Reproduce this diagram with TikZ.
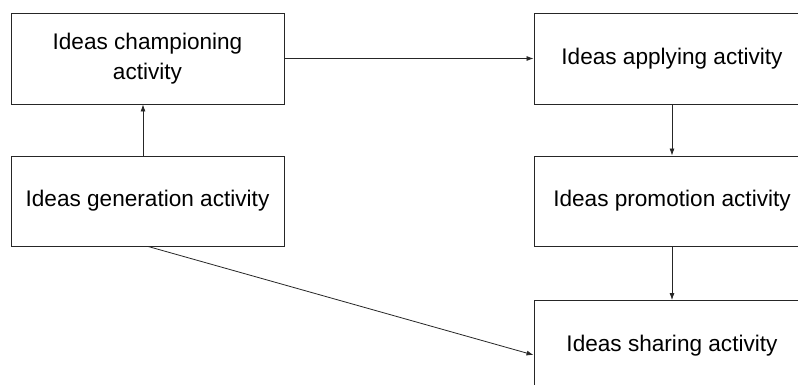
\documentclass[tikz,border=0pt]{standalone}
\usepackage{fontspec}
\setmainfont{Liberation Sans}
\usetikzlibrary{arrows.meta}
\begin{document}
\begin{tikzpicture}[x=1pt,y=1pt,
  box/.style={draw=black!85, line width=0.9pt, inner sep=0pt, align=center,
    text=black, font=\fontsize{22.6}{30}\selectfont},
  conn/.style={draw=black!85, line width=0.8pt, -{Latex[length=7pt,width=5pt]}}]
\path[use as bounding box, clip] (0,0) rectangle (798,-385);
\fill[white] (0,0) rectangle (798,-385);
\node[box, minimum width=273pt, minimum height=91pt] (champ) at (147.5,-58.5) {Ideas championing\\[-0.5pt]activity};
\node[box, minimum width=273pt, minimum height=90pt] (gen) at (147.5,-201) {Ideas generation activity};
\node[box, minimum width=276pt, minimum height=91pt] (apply) at (672,-58.5) {Ideas applying activity};
\node[box, minimum width=276pt, minimum height=90pt] (promo) at (672,-201) {Ideas promotion activity};
\node[box, minimum width=276pt, minimum height=91pt] (share) at (672,-346) {Ideas sharing activity};
\draw[conn] ([xshift=-4.5pt]gen.north) -- ([xshift=-4.5pt]champ.south);
\draw[conn] (champ.east) -- (apply.west);
\draw[conn] (apply.south) -- (promo.north);
\draw[conn] (promo.south) -- (share.north);
\draw[conn] ([xshift=0.5pt]gen.south) -- ([yshift=-9pt]share.west);
\end{tikzpicture}
\end{document}
